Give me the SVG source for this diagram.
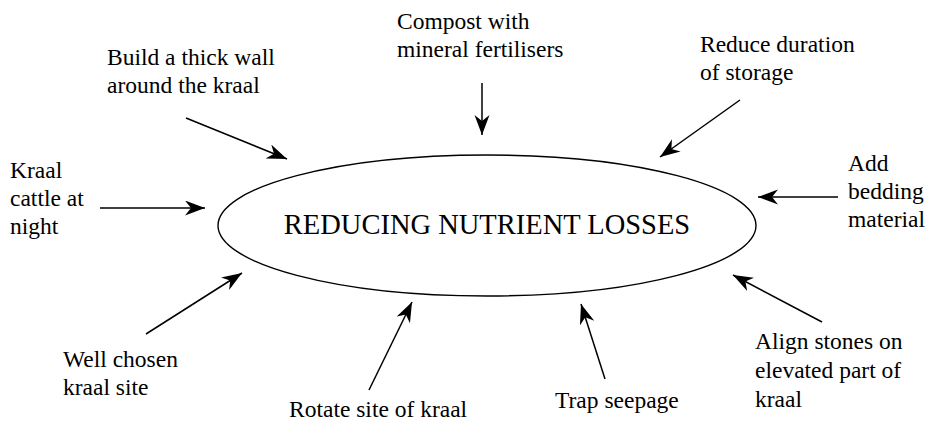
<svg xmlns="http://www.w3.org/2000/svg" width="931" height="421" viewBox="0 0 931 421" font-family="'Liberation Serif', 'Times New Roman', 'DejaVu Serif', serif">
<style>
  text { font-family: "Liberation Serif", "Times New Roman", "DejaVu Serif", serif; fill: #000; }
  text.lbl { font-size: 23.5px; }
  text.main { font-size: 28.5px; }
  .conn line { stroke: #000; stroke-width: 1.5; marker-end: url(#ah); }
</style>
<defs>
  <marker id="ah" markerUnits="userSpaceOnUse" markerWidth="22" markerHeight="16" refX="20" refY="7.5" orient="auto">
    <path d="M0,0 L20,7.5 L0,15 L6,7.5 z" fill="#000"/>
  </marker>
</defs>
<rect width="931" height="421" fill="#fff"/>
<g id="center">
  <ellipse cx="487" cy="225.5" rx="269" ry="70.5" fill="none" stroke="#000" stroke-width="1.4"/>
  <text class="main" x="487" y="234" text-anchor="middle">REDUCING NUTRIENT LOSSES</text>
</g>
<g id="n-wall">
  <text class="lbl" x="107" y="65">Build a thick wall</text>
  <text class="lbl" x="107" y="93">around the kraal</text>
</g>
<g id="n-compost">
  <text class="lbl" x="397" y="29">Compost with</text>
  <text class="lbl" x="397" y="57">mineral fertilisers</text>
</g>
<g id="n-reduce">
  <text class="lbl" x="700" y="52">Reduce duration</text>
  <text class="lbl" x="700" y="80">of storage</text>
</g>
<g id="n-bedding">
  <text class="lbl" x="848" y="171">Add</text>
  <text class="lbl" x="848" y="199">bedding</text>
  <text class="lbl" x="848" y="227">material</text>
</g>
<g id="n-kraal">
  <text class="lbl" x="10" y="178">Kraal</text>
  <text class="lbl" x="10" y="206">cattle at</text>
  <text class="lbl" x="10" y="234">night</text>
</g>
<g id="n-well">
  <text class="lbl" x="63" y="367">Well chosen</text>
  <text class="lbl" x="63" y="395">kraal site</text>
</g>
<g id="n-rotate">
  <text class="lbl" x="289" y="417">Rotate site of kraal</text>
</g>
<g id="n-trap">
  <text class="lbl" x="555" y="408">Trap seepage</text>
</g>
<g id="n-align">
  <text class="lbl" x="755" y="349">Align stones on</text>
  <text class="lbl" x="755" y="378">elevated part of</text>
  <text class="lbl" x="755" y="407">kraal</text>
</g>
<g id="connectors" class="conn">
  <line x1="186" y1="118" x2="287" y2="159"/>
  <line x1="482" y1="83" x2="482" y2="135"/>
  <line x1="740" y1="100" x2="660" y2="157"/>
  <line x1="838" y1="197" x2="758" y2="197"/>
  <line x1="100" y1="208" x2="205" y2="208"/>
  <line x1="146" y1="334" x2="242" y2="273"/>
  <line x1="369" y1="390" x2="412" y2="302"/>
  <line x1="605" y1="379" x2="581" y2="304"/>
  <line x1="822" y1="322" x2="733" y2="275"/>
</g>
</svg>
